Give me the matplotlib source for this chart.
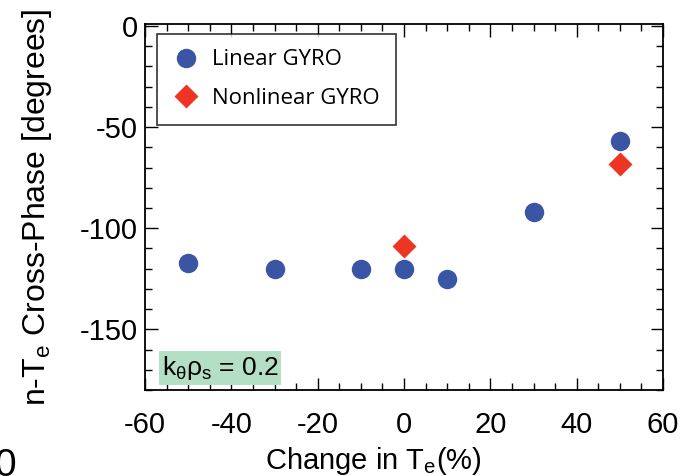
import matplotlib
matplotlib.use("Agg")
import matplotlib.pyplot as plt
from matplotlib.ticker import MultipleLocator

# data
lin_x = [-50, -30, -10, 0, 10, 30, 50]
lin_y = [-117, -120, -120, -120, -125, -92, -57]
nl_x = [0, 50]
nl_y = [-109, -68]

plt.rcParams['font.family'] = ['Liberation Sans', 'DejaVu Sans']
plt.rcParams['mathtext.fontset'] = 'custom'
plt.rcParams['mathtext.rm'] = 'Liberation Sans'
plt.rcParams['mathtext.it'] = 'Liberation Sans'
plt.rcParams['axes.unicode_minus'] = False

fig = plt.figure(figsize=(6.89, 4.76), dpi=100)
ax = fig.add_axes([145/689, 1 - 390/476, (663-145)/689, (390-24)/476])

ax.plot(lin_x, lin_y, 'o', color='#3a55a4', ms=14, mec='none', label='Linear GYRO')
ax.plot(nl_x, nl_y, 'D', color='#ee3524', ms=12, mec='none', label='Nonlinear GYRO')

ax.set_xlim(-60, 60)
ax.set_ylim(-180, 1)
ax.xaxis.set_major_locator(MultipleLocator(20))
ax.xaxis.set_minor_locator(MultipleLocator(5))
ax.yaxis.set_major_locator(MultipleLocator(50))
ax.yaxis.set_minor_locator(MultipleLocator(10))
ax.tick_params(which='both', direction='in', top=True, right=True, labelsize=21, width=1)
ax.tick_params(which='major', length=9)
ax.tick_params(which='minor', length=5)
ax.tick_params(axis='x', which='major', pad=15)
ax.tick_params(axis='y', which='major', pad=5)
for s in ax.spines.values():
    s.set_linewidth(1.3)

ax.set_xlabel('Change in T$_e$(%)', fontsize=21)
ax.xaxis.set_label_coords(0.44, -0.15)
ax.set_ylabel('n-T$_e$ Cross-Phase [degrees]', fontsize=23)
ax.yaxis.set_label_coords(-0.175, 0.5)

leg = ax.legend(loc='upper left', bbox_to_anchor=(0.023, 0.973), prop={'family': 'Open Sans', 'size': 16},
                frameon=True, fancybox=False, edgecolor='black', borderpad=0.7,
                handletextpad=0.6, labelspacing=0.8, borderaxespad=0, handlelength=1.2)
leg.get_frame().set_linewidth(1.2)

ax.text(0.032, 0.04, r'k$_\theta$$\rho_s$ = 0.2', transform=ax.transAxes, fontsize=19,
        bbox=dict(facecolor='#b3dfc4', edgecolor='none', pad=2))

fig.text(-0.008, 0.0, '0', fontsize=28)

fig.savefig('out.png', dpi=100)
